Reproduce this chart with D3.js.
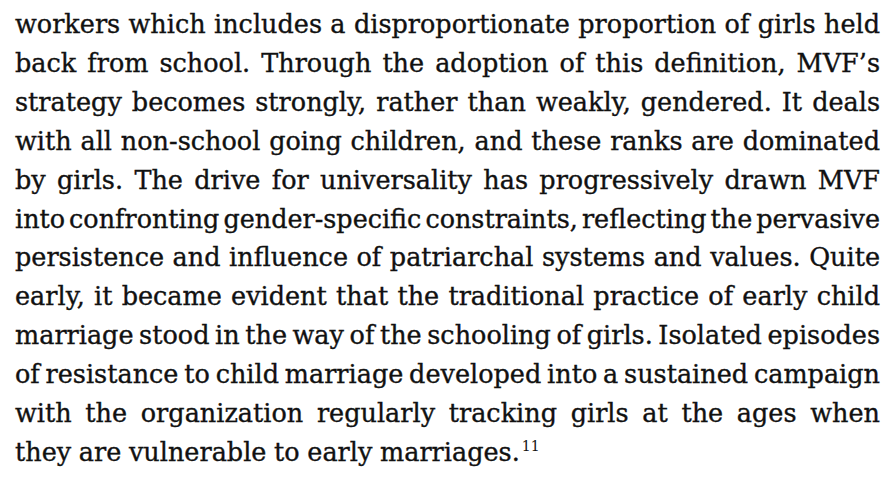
<!DOCTYPE html>
<html>
    <head>
        <style>
            body { margin: 0; background: #ffffff; }
        </style>
    </head>
    <body>
        <script src="https://cdn.jsdelivr.net/npm/d3@7"></script>
        <script type="text/javascript">
            var svgWidth = 886, svgHeight = 479;

            // paragraph text, one entry per printed line
            var lines = [
                "workers which includes a disproportionate proportion of girls held",
                "back from school. Through the adoption of this definition, MVF\u2019s",
                "strategy becomes strongly, rather than weakly, gendered. It deals",
                "with all non-school going children, and these ranks are dominated",
                "by girls. The drive for universality has progressively drawn MVF",
                "into confronting gender-specific constraints, reflecting the pervasive",
                "persistence and influence of patriarchal systems and values. Quite",
                "early, it became evident that the traditional practice of early child",
                "marriage stood in the way of the schooling of girls. Isolated episodes",
                "of resistance to child marriage developed into a sustained campaign",
                "with the organization regularly tracking girls at the ages when",
                "they are vulnerable to early marriages."
            ];
            var noteMarks = ["11"];

            var fontFamily = "'DejaVu Serif', 'Liberation Serif', serif";
            var fontSize = 25.5;
            var minGap = 4;

            var svg = d3.select('body')
                .append('svg')
                .attr('width', svgWidth)
                .attr('height', svgHeight)
                .style('background-color', '#ffffff');

            var xScale = d3.scaleLinear()
                .domain([0, 1])
                .range([15, 880]);

            var yScale = d3.scalePoint()
                .domain(d3.range(lines.length))
                .range([33, 461]);

            var lineGroups = svg.selectAll('g.line')
                .data(lines)
                .enter()
                .append('g')
                .attr('class', 'line');

            lineGroups.each(function (lineText, i) {
                var g = d3.select(this);
                var words = lineText.split(' ');
                var nodes = g.selectAll('text')
                    .data(words)
                    .enter()
                    .append('text')
                    .attr('font-family', fontFamily)
                    .attr('font-size', fontSize)
                    .attr('fill', '#111111')
                    .attr('stroke', '#111111')
                    .attr('stroke-width', 0.35)
                    .text(function (w) { return w; });

                var widths = [];
                nodes.each(function () { widths.push(this.getComputedTextLength()); });
                var total = d3.sum(widths);
                var isLast = (i === lines.length - 1);
                var lineWidth = xScale(1) - xScale(0);
                var gap = isLast ? fontSize * 0.3 : (lineWidth - total) / (words.length - 1);

                // squeeze the glyphs a little when the line would not fit
                var sx = 1;
                if (!isLast && gap < minGap) {
                    sx = (lineWidth - minGap * (words.length - 1)) / total;
                    gap = minGap / sx;
                }

                var pos = 0;
                nodes.attr('x', function (w, j) {
                    var x = pos;
                    pos += widths[j] + gap;
                    return x;
                });

                g.attr('transform', 'translate(' + xScale(0) + ',' + yScale(i) + ') scale(' + sx + ',1)');

                if (isLast) {
                    g.append('text')
                        .attr('font-family', fontFamily)
                        .attr('font-size', fontSize * 0.55)
                        .attr('fill', '#111111')
                        .attr('x', pos - gap + 2)
                        .attr('y', -fontSize * 0.4)
                        .text(noteMarks[0]);
                }
            });
        </script>
    </body>
</html>
